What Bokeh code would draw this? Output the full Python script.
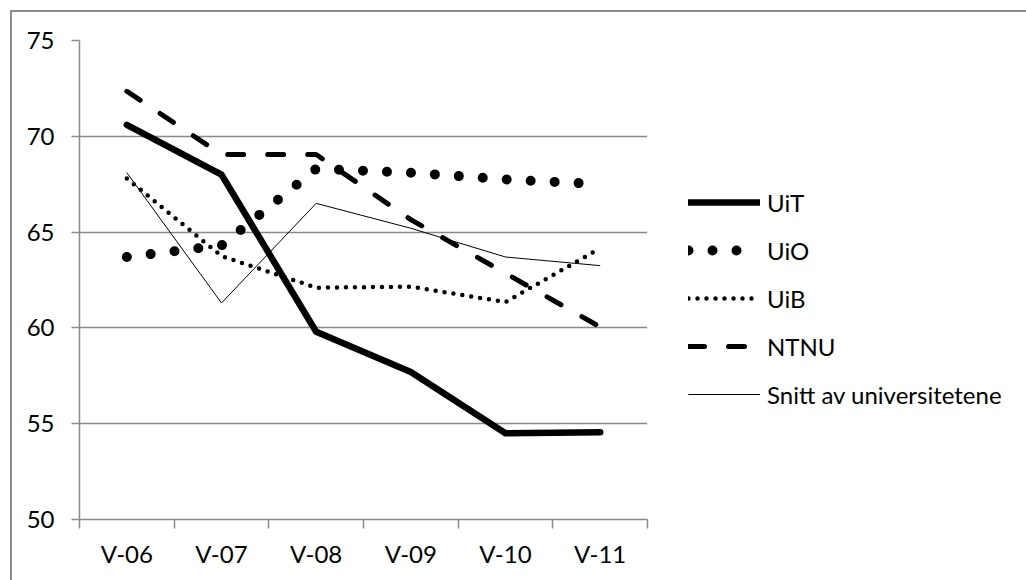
from bokeh.plotting import figure
from bokeh.models import Legend, LegendItem, FixedTicker, Range1d
from bokeh.embed import file_html
from bokeh.resources import INLINE

categories = ["V-06", "V-07", "V-08", "V-09", "V-10", "V-11"]
uit = [70.6, 68.0, 59.8, 57.7, 54.5, 54.55]
uio = [63.7, 64.3, 68.3, 68.1, 67.75, 67.5]
uib = [67.8, 63.75, 62.1, 62.15, 61.35, 64.15]
ntnu = [72.35, 69.05, 69.05, 65.65, 62.85, 60.05]
snitt = [68.1, 61.3, 66.5, 65.2, 63.7, 63.25]
y_ticks = [50, 55, 60, 65, 70, 75]

xs = list(range(1, len(categories) + 1))
FONT = "Lato"
FS = "24px"
GRID = "#8a8a8a"

p = figure(frame_width=568, frame_height=479, output_backend="svg", toolbar_location=None,
           x_range=Range1d(0.5, len(categories) + 0.5), y_range=Range1d(50, 75),
           min_border_left=67, min_border_top=28, min_border_bottom=61,
           min_border_right=8)
p.margin = (10, 0, 0, 10)
p.styles = {"border-top": "2px solid #8c8c8c", "border-left": "2px solid #8c8c8c"}
p.outline_line_color = None
p.background_fill_color = "white"
p.border_fill_color = "white"

# x axis: labels at category centres, ticks between categories
p.xaxis.ticker = FixedTicker(ticks=xs, minor_ticks=[x - 0.5 for x in xs] + [xs[-1] + 0.5])
p.xaxis.major_label_overrides = {x: c for x, c in zip(xs, categories)}
p.xaxis.major_tick_line_color = None
p.xaxis.major_tick_out = 0
p.xaxis.major_tick_in = 0
p.xaxis.minor_tick_line_color = GRID
p.xaxis.minor_tick_line_width = 1.5
p.xaxis.minor_tick_out = 9
p.xaxis.minor_tick_in = 0
p.xaxis.axis_line_color = GRID
p.xaxis.axis_line_width = 1.5
p.xaxis.major_label_standoff = 10
p.xgrid.grid_line_color = None

p.yaxis.ticker = FixedTicker(ticks=y_ticks)
p.yaxis.major_tick_line_color = GRID
p.yaxis.major_tick_line_width = 1.5
p.yaxis.major_tick_out = 8
p.yaxis.major_tick_in = 0
p.yaxis.minor_tick_line_color = None
p.yaxis.axis_line_color = GRID
p.yaxis.axis_line_width = 1.5
p.yaxis.major_label_standoff = 17
p.ygrid.ticker = FixedTicker(ticks=y_ticks)
p.ygrid.grid_line_color = GRID
p.ygrid.grid_line_width = 1.5

for ax in (p.xaxis, p.yaxis):
    ax.major_label_text_font = FONT
    ax.major_label_text_font_size = FS
    ax.major_label_text_color = "black"

r_uit = p.line(xs, uit, line_color="black", line_width=6.5, line_join="round", line_cap="round")
r_uio = p.line(xs, uio, line_color="black", line_width=10, line_dash="0 24", line_cap="round")
r_uib = p.line(xs, uib, line_color="black", line_width=4.5, line_dash="0 9", line_cap="round")
r_ntnu = p.line(xs, ntnu, line_color="black", line_width=5, line_dash="16 24", line_cap="round", line_join="round")
r_snitt = p.line(xs, snitt, line_color="black", line_width=1)

legend = Legend(items=[
    LegendItem(label="UiT", renderers=[r_uit]),
    LegendItem(label="UiO", renderers=[r_uio]),
    LegendItem(label="UiB", renderers=[r_uib]),
    LegendItem(label="NTNU", renderers=[r_ntnu]),
    LegendItem(label="Snitt av universitetene", renderers=[r_snitt]),
], location=(41, 110))
legend.glyph_width = 72
legend.glyph_height = 30
legend.label_height = 30
legend.label_standoff = 7
legend.spacing = 18
legend.padding = 0
legend.margin = 0
legend.border_line_color = None
legend.background_fill_alpha = 0
legend.label_text_font = FONT
legend.label_text_font_size = FS
legend.label_text_color = "black"
p.add_layout(legend, "right")

open("out.html", "w").write(file_html(p, INLINE))
